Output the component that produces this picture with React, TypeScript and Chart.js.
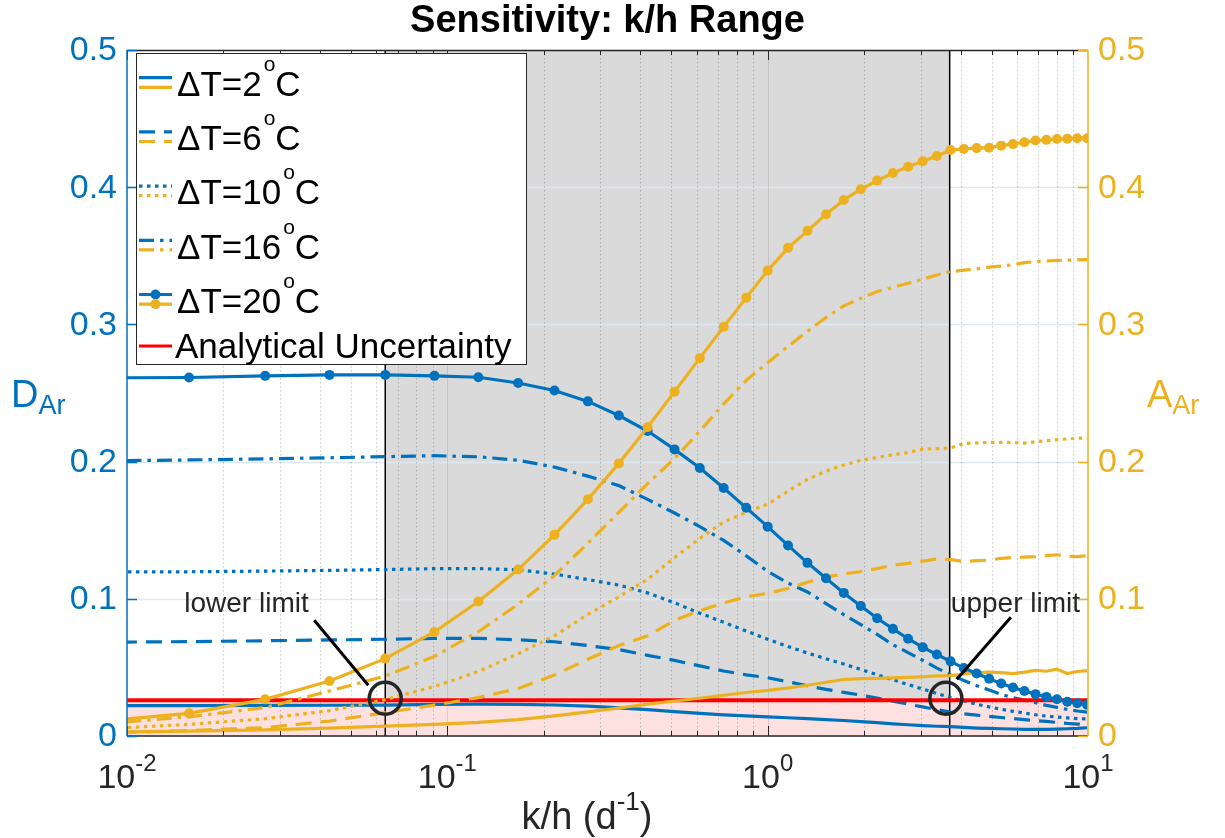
import React, { useEffect, useRef } from "react";
import { Chart, registerables } from "chart.js";
Chart.register(...registerables);

// k/h sample values (d^-1)
const kh = [0.008, 0.015625, 0.027, 0.042875, 0.064, 0.091125, 0.125, 0.166375, 0.216, 0.274625, 0.343, 0.421875, 0.512, 0.614125, 0.729, 0.857375, 1.0, 1.157625, 1.331, 1.520875, 1.728, 1.953125, 2.197, 2.460375, 2.744, 3.048625, 3.375, 3.723875, 4.096, 4.492125, 4.913, 5.359375, 5.832, 6.331625, 6.859, 7.414875, 8.0, 8.615125, 9.261, 9.938375];

// D_Ar (left axis, blue)
const dAr2 = [0.0222, 0.0222, 0.0223, 0.0224, 0.0225, 0.0230, 0.0232, 0.0230, 0.0226, 0.0218, 0.0205, 0.0192, 0.0177, 0.0165, 0.0154, 0.0146, 0.0140, 0.0133, 0.0127, 0.0120, 0.0113, 0.0105, 0.0097, 0.0089, 0.0082, 0.0076, 0.0071, 0.0068, 0.0063, 0.0058, 0.0055, 0.0053, 0.0051, 0.0049, 0.0048, 0.0048, 0.0050, 0.0053, 0.0055, 0.0060];
const dAr6 = [0.0683, 0.0688, 0.0694, 0.0700, 0.0705, 0.0712, 0.0712, 0.0701, 0.0687, 0.0659, 0.0630, 0.0588, 0.0551, 0.0511, 0.0474, 0.0446, 0.0425, 0.0395, 0.0366, 0.0340, 0.0318, 0.0298, 0.0276, 0.0254, 0.0232, 0.0212, 0.0192, 0.0175, 0.0162, 0.0152, 0.0143, 0.0135, 0.0127, 0.0119, 0.0113, 0.0106, 0.0099, 0.0092, 0.0087, 0.0083];
const dAr10 = [0.1195, 0.1197, 0.1202, 0.1207, 0.1213, 0.1220, 0.1220, 0.1212, 0.1180, 0.1140, 0.1100, 0.1043, 0.0971, 0.0895, 0.0829, 0.0765, 0.0705, 0.0652, 0.0605, 0.0563, 0.0525, 0.0485, 0.0446, 0.0410, 0.0375, 0.0342, 0.0310, 0.0280, 0.0255, 0.0232, 0.0212, 0.0195, 0.0180, 0.0167, 0.0155, 0.0145, 0.0138, 0.0132, 0.0127, 0.0124];
const dAr16 = [0.2005, 0.2012, 0.2020, 0.2028, 0.2036, 0.2043, 0.2035, 0.2010, 0.1960, 0.1894, 0.1825, 0.1725, 0.1625, 0.1526, 0.1426, 0.1313, 0.1200, 0.1115, 0.1050, 0.0965, 0.0885, 0.0812, 0.0740, 0.0665, 0.0608, 0.0552, 0.0495, 0.0447, 0.0405, 0.0367, 0.0336, 0.0302, 0.0280, 0.0262, 0.0242, 0.0223, 0.0209, 0.0194, 0.0182, 0.0174];
const dAr20 = [0.2610, 0.2613, 0.2625, 0.2632, 0.2632, 0.2625, 0.2615, 0.2573, 0.2518, 0.2439, 0.2336, 0.2223, 0.2089, 0.1953, 0.1808, 0.1663, 0.1526, 0.1389, 0.1262, 0.1150, 0.1043, 0.0947, 0.0858, 0.0781, 0.0709, 0.0646, 0.0594, 0.0544, 0.0495, 0.0455, 0.0417, 0.0383, 0.0354, 0.0328, 0.0305, 0.0285, 0.0268, 0.0250, 0.0239, 0.0227];

// A_Ar (right axis, yellow)
const aAr2 = [0.0028, 0.0035, 0.0045, 0.0058, 0.0072, 0.0085, 0.0100, 0.0120, 0.0147, 0.0176, 0.0204, 0.0232, 0.0255, 0.0275, 0.0297, 0.0317, 0.0332, 0.0350, 0.0370, 0.0392, 0.0412, 0.0418, 0.0420, 0.0424, 0.0428, 0.0432, 0.0438, 0.0440, 0.0452, 0.0460, 0.0466, 0.0462, 0.0455, 0.0465, 0.0478, 0.0472, 0.0488, 0.0455, 0.0470, 0.0476];
const aAr6 = [0.0020, 0.0040, 0.0061, 0.0109, 0.0170, 0.0225, 0.0280, 0.0346, 0.0445, 0.0559, 0.0659, 0.0730, 0.0843, 0.0914, 0.0971, 0.1014, 0.1040, 0.1075, 0.1120, 0.1160, 0.1180, 0.1199, 0.1220, 0.1245, 0.1258, 0.1275, 0.1290, 0.1285, 0.1272, 0.1278, 0.1282, 0.1295, 0.1301, 0.1304, 0.1307, 0.1315, 0.1321, 0.1310, 0.1307, 0.1314];
const aAr10 = [0.0050, 0.0085, 0.0126, 0.0185, 0.0265, 0.0360, 0.0470, 0.0600, 0.0730, 0.0886, 0.1014, 0.1142, 0.1300, 0.1440, 0.1560, 0.1630, 0.1690, 0.1785, 0.1870, 0.1930, 0.1975, 0.2010, 0.2030, 0.2050, 0.2065, 0.2092, 0.2095, 0.2100, 0.2132, 0.2136, 0.2140, 0.2141, 0.2138, 0.2135, 0.2145, 0.2152, 0.2160, 0.2165, 0.2170, 0.2173];
const aAr16 = [0.0085, 0.0140, 0.0207, 0.0328, 0.0437, 0.0580, 0.0760, 0.0960, 0.1170, 0.1405, 0.1630, 0.1839, 0.2023, 0.2222, 0.2421, 0.2592, 0.2720, 0.2840, 0.2950, 0.3050, 0.3135, 0.3190, 0.3240, 0.3270, 0.3300, 0.3330, 0.3360, 0.3385, 0.3395, 0.3405, 0.3418, 0.3425, 0.3435, 0.3450, 0.3458, 0.3462, 0.3466, 0.3468, 0.3470, 0.3472];
const aAr20 = [0.0104, 0.0165, 0.0267, 0.0401, 0.0564, 0.0758, 0.0980, 0.1213, 0.1466, 0.1725, 0.1987, 0.2251, 0.2510, 0.2754, 0.2982, 0.3195, 0.3392, 0.3558, 0.3682, 0.3803, 0.3907, 0.3985, 0.4048, 0.4103, 0.4149, 0.4190, 0.4227, 0.4271, 0.4279, 0.4285, 0.4288, 0.4303, 0.4314, 0.4328, 0.4340, 0.4345, 0.4351, 0.4354, 0.4357, 0.4357];

const analyticalUncertainty = 0.026;
const khRange = [0.064, 3.7];

const legendLabels = ["ΔT=2", "ΔT=6", "ΔT=10", "ΔT=16", "ΔT=20"];
const redLabel = "Analytical Uncertainty";
const titleText = "Sensitivity: k/h Range";
const xTickValues = [0.01, 0.1, 1, 10];
const xTickExponents = ["-2", "-1", "0", "1"];
const yTickValues = [0, 0.1, 0.2, 0.3, 0.4, 0.5];
const yTickLabels = ["0", "0.1", "0.2", "0.3", "0.4", "0.5"];

const BLUE = "#0072BD";
const YELLOW = "#EDB120";
const RED = "#FF0000";
const DARK = "#262626";
const FONT = '"Liberation Sans", Arial, sans-serif';

const SOLID: number[] = [];
const DASHED = [16, 9];
const DOTTED = [3.5, 4.5];
const DASHDOT = [15, 6, 3.5, 6];
const styles = [SOLID, DASHED, DOTTED, DASHDOT, SOLID];

function series(label: string, vals: number[], color: string, dash: number[], axis: string, markers: boolean, order: number) {
  return {
    label,
    data: kh.map((x, i) => ({ x, y: vals[i] })),
    borderColor: color,
    backgroundColor: color,
    borderWidth: 3.2,
    borderDash: dash,
    borderCapStyle: "butt",
    pointRadius: markers ? 5 : 0,
    pointBorderWidth: 0,
    pointHoverRadius: 0,
    yAxisID: axis,
    tension: 0,
    fill: false,
    order,
  };
}

const decor = {
  id: "decor",
  beforeDatasetsDraw(chart: any) {
    const { ctx, chartArea: a, scales } = chart;
    const X = (v: number) => scales.x.getPixelForValue(v);
    const Y = (v: number) => scales.y.getPixelForValue(v);
    ctx.save();
    ctx.beginPath();
    ctx.rect(a.left, a.top, a.right - a.left, a.bottom - a.top);
    ctx.clip();
    const g0 = X(khRange[0]);
    const g1 = X(khRange[1]);
    ctx.fillStyle = "#dadada";
    ctx.fillRect(g0, a.top, g1 - g0, a.bottom - a.top);
    const py = Y(analyticalUncertainty);
    ctx.fillStyle = "#fde1e1";
    ctx.fillRect(a.left, py, a.right - a.left, a.bottom - py);
    ctx.strokeStyle = "#dde8f2";
    ctx.lineWidth = 1.5;
    for (const v of yTickValues) {
      if (v === 0 || v === 0.5) continue;
      const y = Math.round(Y(v)) + 0.5;
      ctx.beginPath();
      ctx.moveTo(a.left, y);
      ctx.lineTo(a.right, y);
      ctx.stroke();
    }
    ctx.strokeStyle = "rgba(38,38,38,0.25)";
    ctx.lineWidth = 1;
    ctx.setLineDash([1.5, 2.5]);
    for (const d of [0.01, 0.1, 1]) {
      for (let m = 2; m <= 9; m++) {
        const x = Math.round(X(d * m)) + 0.5;
        ctx.beginPath();
        ctx.moveTo(x, a.top);
        ctx.lineTo(x, a.bottom);
        ctx.stroke();
      }
    }
    ctx.setLineDash([]);
    ctx.strokeStyle = "rgba(38,38,38,0.12)";
    for (const d of [0.1, 1]) {
      const x = Math.round(X(d)) + 0.5;
      ctx.beginPath();
      ctx.moveTo(x, a.top);
      ctx.lineTo(x, a.bottom);
      ctx.stroke();
    }
    ctx.strokeStyle = "#000";
    ctx.lineWidth = 1.5;
    for (const gx of [g0, g1]) {
      ctx.beginPath();
      ctx.moveTo(gx, a.top);
      ctx.lineTo(gx, a.bottom);
      ctx.stroke();
    }
    ctx.restore();
  },
  afterDraw(chart: any) {
    const { ctx, chartArea: a, scales } = chart;
    const X = (v: number) => scales.x.getPixelForValue(v);
    const Y = (v: number) => scales.y.getPixelForValue(v);
    const Y1 = (v: number) => scales.y1.getPixelForValue(v);
    ctx.save();

    ctx.lineWidth = 1.3;
    ctx.strokeStyle = DARK;
    ctx.beginPath();
    ctx.moveTo(a.left, a.top + 0.5);
    ctx.lineTo(a.right, a.top + 0.5);
    ctx.moveTo(a.left, a.bottom);
    ctx.lineTo(a.right, a.bottom);
    ctx.stroke();
    ctx.lineWidth = 1;
    for (const d of [0.01, 0.1, 1]) {
      for (let m = 1; m <= 9; m++) {
        const v = d * m;
        const x = Math.round(X(v)) + 0.5;
        const len = m === 1 ? 10 : 5;
        ctx.beginPath();
        ctx.moveTo(x, a.bottom);
        ctx.lineTo(x, a.bottom - len);
        ctx.moveTo(x, a.top);
        ctx.lineTo(x, a.top + len);
        ctx.stroke();
      }
    }
    ctx.lineWidth = 1.5;
    ctx.strokeStyle = BLUE;
    ctx.beginPath();
    ctx.moveTo(a.left, a.top);
    ctx.lineTo(a.left, a.bottom);
    for (const v of yTickValues) {
      const y = Math.round(Y(v)) + 0.5;
      ctx.moveTo(a.left, y);
      ctx.lineTo(a.left + 10, y);
    }
    ctx.stroke();
    ctx.strokeStyle = YELLOW;
    ctx.beginPath();
    ctx.moveTo(a.right, a.top);
    ctx.lineTo(a.right, a.bottom);
    for (const v of yTickValues) {
      const y = Math.round(Y1(v)) + 0.5;
      ctx.moveTo(a.right, y);
      ctx.lineTo(a.right - 10, y);
    }
    ctx.stroke();

    ctx.font = `34px ${FONT}`;
    ctx.textBaseline = "middle";
    ctx.fillStyle = BLUE;
    ctx.textAlign = "right";
    yTickValues.forEach((v, i) => ctx.fillText(yTickLabels[i], a.left - 10, Y(v) + 1));
    ctx.fillStyle = YELLOW;
    ctx.textAlign = "left";
    yTickValues.forEach((v, i) => ctx.fillText(yTickLabels[i], a.right + 10, Y1(v) + 1));

    ctx.textBaseline = "alphabetic";
    ctx.fillStyle = DARK;
    xTickValues.forEach((v, i) => {
      ctx.font = `34px ${FONT}`;
      const w10 = ctx.measureText("10").width;
      ctx.font = `24px ${FONT}`;
      const we = ctx.measureText(xTickExponents[i]).width;
      const left = X(v) - (w10 + we) / 2;
      ctx.font = `34px ${FONT}`;
      ctx.fillText("10", left, 788);
      ctx.font = `24px ${FONT}`;
      ctx.fillText(xTickExponents[i], left + w10, 771);
    });

    {
      ctx.font = `38px ${FONT}`;
      const p1 = "k/h (d";
      const w1 = ctx.measureText(p1).width;
      const w3 = ctx.measureText(")").width;
      ctx.font = `26px ${FONT}`;
      const w2 = ctx.measureText("-1").width;
      const left = 587 - (w1 + w2 + w3) / 2;
      ctx.font = `38px ${FONT}`;
      ctx.fillText(p1, left, 829);
      ctx.fillText(")", left + w1 + w2, 829);
      ctx.font = `26px ${FONT}`;
      ctx.fillText("-1", left + w1, 810);
    }

    const yMid = (a.top + a.bottom) / 2;
    ctx.fillStyle = BLUE;
    ctx.font = `38px ${FONT}`;
    ctx.fillText("D", 11, yMid + 14);
    let wd = ctx.measureText("D").width;
    ctx.font = `27px ${FONT}`;
    ctx.fillText("Ar", 11 + wd, yMid + 21);
    ctx.fillStyle = YELLOW;
    ctx.font = `38px ${FONT}`;
    ctx.fillText("A", 1147, yMid + 14);
    wd = ctx.measureText("A").width;
    ctx.font = `27px ${FONT}`;
    ctx.fillText("Ar", 1147 + wd, yMid + 21);

    ctx.fillStyle = "#000";
    ctx.font = `bold 38px ${FONT}`;
    ctx.textAlign = "center";
    ctx.fillText(titleText, (a.left + a.right) / 2, 32);
    ctx.textAlign = "left";

    const lc = { x: X(khRange[0]), y: Y(0.0275) };
    const uc = { x: X(3.6), y: Y(0.0275) };
    ctx.strokeStyle = DARK;
    ctx.lineWidth = 3.5;
    for (const c of [lc, uc]) {
      ctx.beginPath();
      ctx.arc(c.x, c.y, 16, 0, Math.PI * 2);
      ctx.stroke();
    }
    ctx.strokeStyle = "#000";
    ctx.lineWidth = 3;
    ctx.beginPath();
    ctx.moveTo(lc.x - 71, lc.y - 78);
    ctx.lineTo(lc.x - 17, lc.y - 13);
    ctx.moveTo(uc.x + 65, uc.y - 81);
    ctx.lineTo(uc.x + 11, uc.y - 19);
    ctx.stroke();
    ctx.fillStyle = DARK;
    ctx.font = `28px ${FONT}`;
    ctx.fillText("lower limit", lc.x - 201, lc.y - 86);
    ctx.fillText("upper limit", uc.x + 5, uc.y - 86);

    const L = { x: 136, y: 53, w: 390, h: 311 };
    ctx.fillStyle = "#fff";
    ctx.fillRect(L.x, L.y, L.w, L.h);
    ctx.strokeStyle = DARK;
    ctx.lineWidth = 1;
    ctx.strokeRect(L.x + 0.5, L.y + 0.5, L.w, L.h);
    const sx0 = 139, sx1 = 172, tx = 177;
    legendLabels.forEach((lab, i) => {
      const cy = 82.5 + i * 54.2;
      [[BLUE, cy - 4.8], [YELLOW, cy + 4.8]].forEach(([col, yy]: any) => {
        ctx.strokeStyle = col;
        ctx.lineWidth = 3.2;
        ctx.setLineDash(styles[i]);
        ctx.beginPath();
        ctx.moveTo(sx0, yy);
        ctx.lineTo(sx1, yy);
        ctx.stroke();
        ctx.setLineDash([]);
        if (i === 4) {
          ctx.fillStyle = col;
          ctx.beginPath();
          ctx.arc((sx0 + sx1) / 2, yy, 5, 0, Math.PI * 2);
          ctx.fill();
        }
      });
      ctx.fillStyle = "#000";
      ctx.font = `35px ${FONT}`;
      const base = cy + 13.5;
      ctx.fillText(lab, tx, base);
      const w = ctx.measureText(lab).width;
      ctx.font = `21px ${FONT}`;
      ctx.fillText("o", tx + w + 2, base - 25);
      const wo = ctx.measureText("o").width;
      ctx.font = `35px ${FONT}`;
      ctx.fillText("C", tx + w + 2 + wo, base);
    });
    ctx.strokeStyle = RED;
    ctx.lineWidth = 3.2;
    ctx.beginPath();
    ctx.moveTo(sx0, 346);
    ctx.lineTo(sx1, 346);
    ctx.stroke();
    ctx.fillStyle = "#000";
    ctx.font = `35px ${FONT}`;
    ctx.fillText(redLabel, 175, 358);

    ctx.restore();
  },
};

export default function App() {
  const ref = useRef<HTMLCanvasElement | null>(null);
  useEffect(() => {
    if (!ref.current) return;
    const datasets: any[] = [
      {
        label: redLabel,
        data: [{ x: 0.01, y: analyticalUncertainty }, { x: 10, y: analyticalUncertainty }],
        borderColor: RED,
        backgroundColor: RED,
        borderWidth: 4,
        pointRadius: 0,
        yAxisID: "y",
        order: 5,
      },
      series("A ΔT=20", aAr20, YELLOW, SOLID, "y1", true, 1),
      series("A ΔT=16", aAr16, YELLOW, DASHDOT, "y1", false, 2),
      series("A ΔT=10", aAr10, YELLOW, DOTTED, "y1", false, 3),
      series("A ΔT=6", aAr6, YELLOW, DASHED, "y1", false, 4),
      series("A ΔT=2", aAr2, YELLOW, SOLID, "y1", false, 4),
      series("D ΔT=20", dAr20, BLUE, SOLID, "y", true, 1),
      series("D ΔT=16", dAr16, BLUE, DASHDOT, "y", false, 6),
      series("D ΔT=10", dAr10, BLUE, DOTTED, "y", false, 6),
      series("D ΔT=6", dAr6, BLUE, DASHED, "y", false, 6),
      series("D ΔT=2", dAr2, BLUE, SOLID, "y", false, 6),
    ];
    const chart = new Chart(ref.current, {
      type: "line",
      data: { datasets },
      options: {
        animation: false,
        responsive: true,
        maintainAspectRatio: false,
        events: [],
        layout: { padding: { top: 50, left: 0, right: 0, bottom: 0 } },
        plugins: { legend: { display: false }, title: { display: false }, tooltip: { enabled: false } },
        scales: {
          x: {
            type: "logarithmic",
            min: 0.01,
            max: 10,
            position: "bottom",
            ticks: { display: false },
            grid: { display: false, drawTicks: false },
            border: { display: false },
            afterFit: (s: any) => { s.height = 838 - 736; },
          },
          y: {
            type: "linear",
            min: 0,
            max: 0.5,
            position: "left",
            ticks: { display: false },
            grid: { display: false, drawTicks: false },
            border: { display: false },
            afterFit: (s: any) => { s.width = 127; },
          },
          y1: {
            type: "linear",
            min: 0,
            max: 0.5,
            position: "right",
            ticks: { display: false },
            grid: { display: false, drawTicks: false },
            border: { display: false },
            afterFit: (s: any) => { s.width = 1225 - 1088; },
          },
        },
      } as any,
      plugins: [decor],
    });
    return () => chart.destroy();
  }, []);
  return (
    <div style={{ position: "fixed", left: 0, top: 0, width: 1225, height: 838, background: "#fff" }}>
      <canvas ref={ref} />
    </div>
  );
}
